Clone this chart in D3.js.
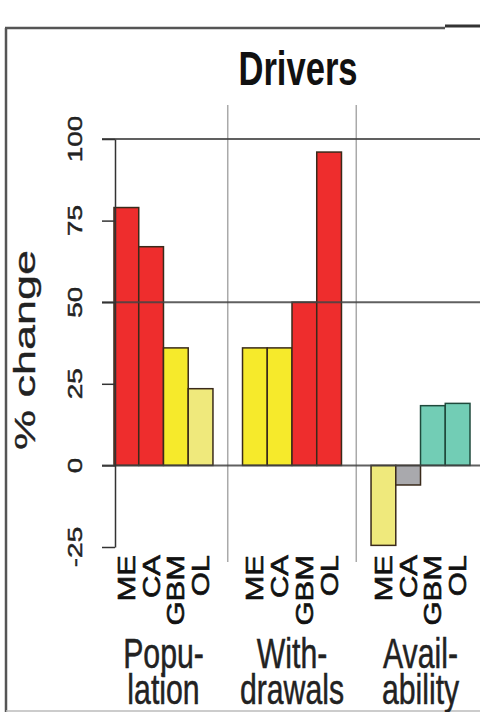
<!DOCTYPE html>
<html>
<head>
<meta charset="utf-8">
<script src="https://cdn.jsdelivr.net/npm/d3@7"></script>
<style>
  html, body { margin: 0; padding: 0; background: #fff; }
  svg { display: block; font-family: "Liberation Sans", Arial, sans-serif; }
</style>
</head>
<body>
<svg id="chart" width="480" height="712"></svg>
<script>
// ---- data ----
const groups = ["Population", "Withdrawals", "Availability"];
const groupLabels = [["Popu-", "lation"], ["With-", "drawals"], ["Avail-", "ability"]];
const regions = ["ME", "CA", "GBM", "OL"];
const populationValues = [79, 67, 36, 23.5];
const withdrawalsValues = [36, 36, 50, 96];
const availabilityValues = [-24.5, -6, 18.3, 19];
const populationColors = ["#ee2d2d", "#ee2d2d", "#f6ea2b", "#efe97c"];
const withdrawalsColors = ["#f6ea2b", "#f6ea2b", "#ee2d2d", "#ee2d2d"];
const availabilityColors = ["#efe97c", "#a9a9ad", "#72cdb5", "#72cdb5"];
const yTicks = [-25, 0, 25, 50, 75, 100];
const refLines = [0, 50, 100];
const titleText = "Drivers";
const yTitle = "% change";

const seriesValues = [populationValues, withdrawalsValues, availabilityValues];
const seriesColors = [populationColors, withdrawalsColors, availabilityColors];
const bars = [];
groups.forEach((g, gi) => regions.forEach((r, ri) => bars.push({
  group: g, region: r, value: seriesValues[gi][ri], color: seriesColors[gi][ri]
})));

// ---- layout ----
const svg = d3.select("#chart");
const SX = 0.72;

const y = d3.scaleLinear().domain([-25, 100]).range([547, 139]);
const x0 = d3.scaleBand().domain(groups).range([114, 470]).paddingInner(0.23).paddingOuter(0);
const x1 = d3.scaleBand().domain(regions).range([0, x0.bandwidth()]).padding(0);

// outer frame
svg.append("line").attr("x1", 6).attr("x2", 6).attr("y1", 28).attr("y2", 712)
  .attr("stroke", "#555").attr("stroke-width", 2.5);
svg.append("line").attr("x1", 5).attr("x2", 445).attr("y1", 28).attr("y2", 28)
  .attr("stroke", "#555").attr("stroke-width", 2.5);
svg.append("line").attr("x1", 445).attr("x2", 480).attr("y1", 26).attr("y2", 26)
  .attr("stroke", "#333").attr("stroke-width", 3);
svg.append("line").attr("x1", 6).attr("x2", 480).attr("y1", 711).attr("y2", 711)
  .attr("stroke", "#bbb").attr("stroke-width", 1.5);

// title
svg.append("text").attr("transform", `translate(298,85) scale(${SX},1)`)
  .attr("text-anchor", "middle").attr("font-size", 48).attr("font-weight", "bold")
  .attr("fill", "#111").text(titleText);

// group separators
const seps = groups.slice(1).map((g, i) => {
  const prevEnd = x0(groups[i]) + x0.bandwidth();
  return (prevEnd + x0(g)) / 2;
});
svg.selectAll("line.sep").data(seps).join("line").attr("class", "sep")
  .attr("x1", d => d).attr("x2", d => d).attr("y1", 105).attr("y2", 562)
  .attr("stroke", "#aaa").attr("stroke-width", 1.5);

// bars
svg.selectAll("rect.bar").data(bars).join("rect").attr("class", "bar")
  .attr("x", d => x0(d.group) + x1(d.region))
  .attr("width", x1.bandwidth())
  .attr("y", d => y(Math.max(0, d.value)))
  .attr("height", d => Math.abs(y(d.value) - y(0)))
  .attr("fill", d => d.color)
  .attr("stroke", d => d.color === "#72cdb5" ? "#1f4a3c" : "#3a2a1a")
  .attr("stroke-width", 1.5);

// reference lines
svg.selectAll("line.ref").data(refLines).join("line").attr("class", "ref")
  .attr("x1", 102).attr("x2", 480)
  .attr("y1", d => y(d)).attr("y2", d => y(d))
  .attr("stroke", "#444").attr("stroke-opacity", 0.85).attr("stroke-width", 2);

// y axis
const yAxis = d3.axisLeft(y).tickValues(yTicks).tickSize(13).tickSizeOuter(0).tickFormat("");
const gy = svg.append("g").attr("transform", "translate(115,0)").call(yAxis);
gy.select(".domain").attr("stroke", "#333").attr("stroke-width", 1.5);
gy.selectAll(".tick line").attr("stroke", "#333").attr("stroke-width", 1.5);

svg.selectAll("text.ytick").data(yTicks).join("text").attr("class", "ytick")
  .attr("transform", d => `translate(82,${y(d)}) scale(${SX},1) rotate(-90)`)
  .attr("text-anchor", "middle").attr("font-size", 28).attr("fill", "#222")
  .attr("stroke", "#222").attr("stroke-width", 0.6)
  .text(d => d);

// y title
svg.append("text").attr("transform", `translate(35,350) scale(0.66,1) rotate(-90)`)
  .attr("text-anchor", "middle").attr("font-size", 45).attr("fill", "#222")
  .attr("stroke", "#222").attr("stroke-width", 0.5)
  .text(yTitle);

// x tick labels (rotated)
svg.selectAll("text.xtick").data(bars).join("text").attr("class", "xtick")
  .attr("transform", d => {
    const cx = x0(d.group) + x1(d.region) + x1.bandwidth() / 2;
    return `translate(${cx + 8.5},555) scale(0.76,1) rotate(-90)`;
  })
  .attr("text-anchor", "end").attr("font-size", 31).attr("fill", "#111")
  .attr("stroke", "#111").attr("stroke-width", 0.8)
  .text(d => d.region);

// group labels (two-line, wrapped with tspans)
groups.forEach((g, i) => {
  const cx = x0(g) + x0.bandwidth() / 2;
  const t = svg.append("text").attr("transform", `translate(${cx},668) scale(${SX},1)`)
    .attr("text-anchor", "middle").attr("font-size", 42).attr("fill", "#222")
    .attr("stroke", "#222").attr("stroke-width", 0.5);
  groupLabels[i].forEach((line, li) => {
    t.append("tspan").attr("x", 0).attr("y", li * 36).text(line);
  });
});
</script>
</body>
</html>
